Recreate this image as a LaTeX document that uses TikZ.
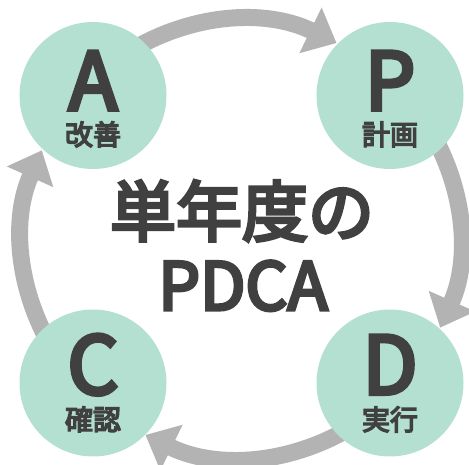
\documentclass[tikz,border=0pt]{standalone}
\usepackage{fontspec}
\setmainfont{Noto Sans CJK JP}[BoldFont=*, BoldFeatures={FakeBold=5}]
\usetikzlibrary{arrows.meta}
\usetikzlibrary{calc}
\definecolor{phasegreen}{HTML}{B3E0D1}
\definecolor{flowgray}{HTML}{B3B3B3}
\definecolor{inkgray}{HTML}{404040}

\begin{document}
\begin{tikzpicture}[x=1pt, y=1pt,
    flow/.style = {draw=flowgray, line width=17pt, -{Triangle[width=49pt,length=29pt]}},
    phase/.style = {circle, fill=phasegreen, minimum size=147pt, inner sep=0pt},
    letter/.style = {anchor=base, text=inkgray, font=\fontsize{80}{80}\selectfont\bfseries},
    phasename/.style = {anchor=base, text=inkgray, font=\fontsize{28}{28}\selectfont\bfseries},
    title/.style = {anchor=base, text=inkgray, font=\fontsize{66}{66}\selectfont\bfseries}]
            \useasboundingbox (0,0) rectangle (469,465);
            \coordinate (o) at (241,226);
            \draw[flow] ($(o)+(136:218)$) arc (136:64:218);
            \draw[flow] ($(o)+(44:218)$) arc (44:-24:218);
            \draw[flow] ($(o)+(-44:218)$) arc (-44:-116:218);
            \draw[flow] ($(o)+(224:218)$) arc (224:156:218);
            \node[phase] (A) at (93,369.5) {};
            \node[phase] (P) at (390,369.5) {};
            \node[phase] (C) at (93,82) {};
            \node[phase] (D) at (390,82) {};
            \node[letter] (A-let) at ($(A)+(0,-14.5)$) {A};
            \node[letter] (P-let) at ($(P)+(0,-14.5)$) {P};
            \node[letter] (C-let) at ($(C)+(0,-11)$) {C};
            \node[letter] (D-let) at ($(D)+(0,-11)$) {D};
            \node[phasename] (A-name) at ($(A)+(0,-49.5)$) {改善};
            \node[phasename] (P-name) at ($(P)+(0,-49.5)$) {計画};
            \node[phasename] (C-name) at ($(C)+(0,-47)$) {確認};
            \node[phasename] (D-name) at ($(D)+(0,-47)$) {実行};
            \node[title] (year) at (242,229) {単年度の};
            \node[title] (pdca) at (243,155) {PDCA};
\end{tikzpicture}
\end{document}
